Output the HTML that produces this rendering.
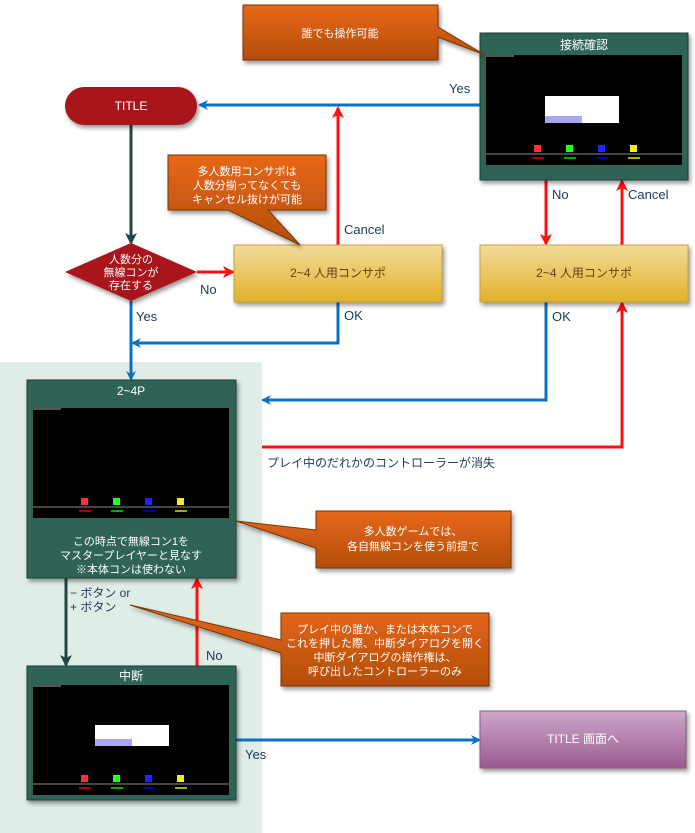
<!DOCTYPE html>
<html><head><meta charset="utf-8"><style>
body{margin:0;background:#fff}
svg{display:block;font-family:"Liberation Sans","Noto Sans CJK JP",sans-serif}
</style></head><body>
<svg width="695" height="833" viewBox="0 0 695 833" xmlns="http://www.w3.org/2000/svg">
<defs>
<linearGradient id="og" x1="0" y1="0" x2="0" y2="1"><stop offset="0" stop-color="#e86818"/><stop offset="1" stop-color="#b34d0c"/></linearGradient>
<linearGradient id="yg" x1="0" y1="0" x2="0" y2="1"><stop offset="0" stop-color="#f2dc9a"/><stop offset="1" stop-color="#e0b12a"/></linearGradient>
<linearGradient id="pg" x1="0" y1="0" x2="0" y2="1"><stop offset="0" stop-color="#cda6cb"/><stop offset="1" stop-color="#9a5b90"/></linearGradient>
<filter id="sh" x="-10%" y="-10%" width="130%" height="130%"><feDropShadow dx="2" dy="3" stdDeviation="2" flood-opacity="0.4"/></filter>
<marker id="ab" markerWidth="10" markerHeight="10" refX="8" refY="5" orient="auto" markerUnits="userSpaceOnUse"><path d="M0,0 L10,5 L0,10 L3,5z" fill="#0a70c4"/></marker>
<marker id="ar" markerWidth="12" markerHeight="12" refX="10" refY="6" orient="auto" markerUnits="userSpaceOnUse"><path d="M0,0 L12,6 L0,12 L3,6z" fill="#ff1010"/></marker>
<marker id="ad" markerWidth="12" markerHeight="12" refX="10" refY="6" orient="auto" markerUnits="userSpaceOnUse"><path d="M0,0 L12,6 L0,12 L3,6z" fill="#1f4a44"/></marker>
<g id="scr">
<rect x="0" y="0" width="196" height="110" fill="#000"/>
<rect x="0" y="0" width="28" height="2" fill="#555"/>
<rect x="0" y="98" width="196" height="2" fill="#444"/>
<rect x="48" y="90" width="7" height="7" fill="#f33"/><rect x="80" y="90" width="7" height="7" fill="#2f2"/><rect x="112" y="90" width="7" height="7" fill="#22f"/><rect x="144" y="90" width="7" height="7" fill="#ee2"/>
<rect x="46" y="102" width="12" height="2" fill="#a00"/><rect x="78" y="102" width="12" height="2" fill="#0a0"/><rect x="110" y="102" width="12" height="2" fill="#00a"/><rect x="142" y="102" width="12" height="2" fill="#aa0"/>
</g>
</defs>

<rect x="0" y="362" width="262" height="471" fill="#e0ece6"/>

<!-- connectors -->
<line x1="480" y1="105" x2="200" y2="105" stroke="#0a70c4" stroke-width="3" marker-end="url(#ab)"/>
<line x1="338" y1="245" x2="338" y2="108" stroke="#ff1010" stroke-width="3" marker-end="url(#ar)"/>
<line x1="131" y1="125" x2="131" y2="243" stroke="#1f4a44" stroke-width="3" marker-end="url(#ad)"/>
<line x1="197" y1="272" x2="233" y2="272" stroke="#ff1010" stroke-width="3" marker-end="url(#ar)"/>
<line x1="131" y1="301" x2="131" y2="379" stroke="#0a70c4" stroke-width="3" marker-end="url(#ab)"/>
<polyline points="338,302 338,343 133,343" fill="none" stroke="#0a70c4" stroke-width="3" marker-end="url(#ab)"/>
<line x1="546" y1="180" x2="546" y2="244" stroke="#ff1010" stroke-width="3" marker-end="url(#ar)"/>
<line x1="622" y1="245" x2="622" y2="181" stroke="#ff1010" stroke-width="3" marker-end="url(#ar)"/>
<polyline points="546,302 546,400 263,400" fill="none" stroke="#0a70c4" stroke-width="3" marker-end="url(#ab)"/>
<polyline points="262,447 622,447 622,303" fill="none" stroke="#ff1010" stroke-width="3" marker-end="url(#ar)"/>
<line x1="66" y1="578" x2="66" y2="665" stroke="#1f4a44" stroke-width="3" marker-end="url(#ad)"/>
<line x1="197" y1="666" x2="197" y2="579" stroke="#ff1010" stroke-width="3" marker-end="url(#ar)"/>
<line x1="236" y1="740" x2="479" y2="740" stroke="#0a70c4" stroke-width="3" marker-end="url(#ab)"/>

<!-- labels -->
<g font-size="13" fill="#1f3a55">
<text x="449" y="93">Yes</text>
<text x="344" y="234">Cancel</text>
<text x="200" y="294">No</text>
<text x="136" y="321">Yes</text>
<text x="344" y="320">OK</text>
<text x="552" y="199">No</text>
<text x="628" y="199">Cancel</text>
<text x="552" y="321">OK</text>
<text x="267" y="467" font-size="12">プレイ中のだれかのコントローラーが消失</text>
<text x="70" y="597" font-size="12">− ボタン or</text>
<text x="70" y="611" font-size="12">+ ボタン</text>
<text x="206" y="660">No</text>
<text x="245" y="759">Yes</text>
</g>

<!-- TITLE -->
<rect x="65" y="87" width="132" height="38" rx="19" fill="#a8141a" filter="url(#sh)"/>
<text x="131" y="110" font-size="12" fill="#fff" text-anchor="middle">TITLE</text>

<!-- diamond -->
<path d="M131,243 L197,272 L131,301 L65,272z" fill="#a8141a" filter="url(#sh)"/>
<g font-size="11" fill="#fff" text-anchor="middle"><text x="131" y="263">人数分の</text><text x="131" y="276">無線コンが</text><text x="131" y="289">存在する</text></g>

<!-- yellow boxes -->
<rect x="234" y="245" width="208" height="57" fill="url(#yg)" stroke="#c9a13c" filter="url(#sh)"/>
<text x="338" y="277" font-size="12" fill="#6b3d10" text-anchor="middle">2~4 人用コンサポ</text>
<rect x="480" y="245" width="208" height="57" fill="url(#yg)" stroke="#c9a13c" filter="url(#sh)"/>
<text x="584" y="277" font-size="12" fill="#6b3d10" text-anchor="middle">2~4 人用コンサポ</text>

<!-- 接続確認 -->
<rect x="480" y="33" width="208" height="147" fill="#2d6356" stroke="#1b3f37" filter="url(#sh)"/>
<text x="584" y="49" font-size="12" fill="#fff" text-anchor="middle">接続確認</text>
<use href="#scr" x="486" y="55"/>
<rect x="545" y="96" width="74" height="27" fill="#fff"/>
<rect x="545" y="116" width="37" height="7" fill="#a8a8f0"/>

<!-- 2-4P -->
<rect x="27" y="380" width="209" height="198" fill="#2d6356" stroke="#1b3f37" filter="url(#sh)"/>
<text x="131" y="395" font-size="12" fill="#fff" text-anchor="middle">2~4P</text>
<use href="#scr" x="33" y="408"/>
<g font-size="11" fill="#fff" text-anchor="middle"><text x="131" y="545">この時点で無線コン1を</text><text x="131" y="559">マスタープレイヤーと見なす</text><text x="131" y="573">※本体コンは使わない</text></g>

<!-- 中断 -->
<rect x="27" y="666" width="209" height="134" fill="#2d6356" stroke="#1b3f37" filter="url(#sh)"/>
<text x="131" y="680" font-size="12" fill="#fff" text-anchor="middle">中断</text>
<use href="#scr" x="33" y="685"/>
<rect x="95" y="725" width="74" height="21" fill="#fff"/>
<rect x="95" y="739" width="37" height="7" fill="#a8a8f0"/>

<!-- purple -->
<rect x="480" y="711" width="206" height="57" fill="url(#pg)" stroke="#8a5a84" filter="url(#sh)"/>
<text x="583" y="743" font-size="12" fill="#fff" text-anchor="middle">TITLE 画面へ</text>

<!-- callouts -->
<g filter="url(#sh)" stroke="#7a3406" stroke-width="1">
<path d="M243,5 H438 V27 L485,55 L438,37 V60 H243z" fill="url(#og)"/>
<path d="M168,155 H326 V210 H268 L300,245 L228,210 H168z" fill="url(#og)"/>
<path d="M316,511 H511 V568 H316 V548 L236,521 L316,530z" fill="url(#og)"/>
<path d="M281,613 H489 V686 H281 V653 L130,605 L281,640z" fill="url(#og)"/>
</g>
<g font-size="11" fill="#fff" text-anchor="middle">
<text x="340" y="37">誰でも操作可能</text>
<text x="247" y="175">多人数用コンサポは</text><text x="247" y="189">人数分揃ってなくても</text><text x="247" y="203">キャンセル抜けが可能</text>
<text x="413" y="535">多人数ゲームでは、</text><text x="413" y="550">各自無線コンを使う前提で</text>
<text x="385" y="633">プレイ中の誰か、または本体コンで</text><text x="385" y="647">これを押した際、中断ダイアログを開く</text><text x="385" y="661">中断ダイアログの操作権は、</text><text x="385" y="675">呼び出したコントローラーのみ</text>
</g>
</svg>
</body></html>
